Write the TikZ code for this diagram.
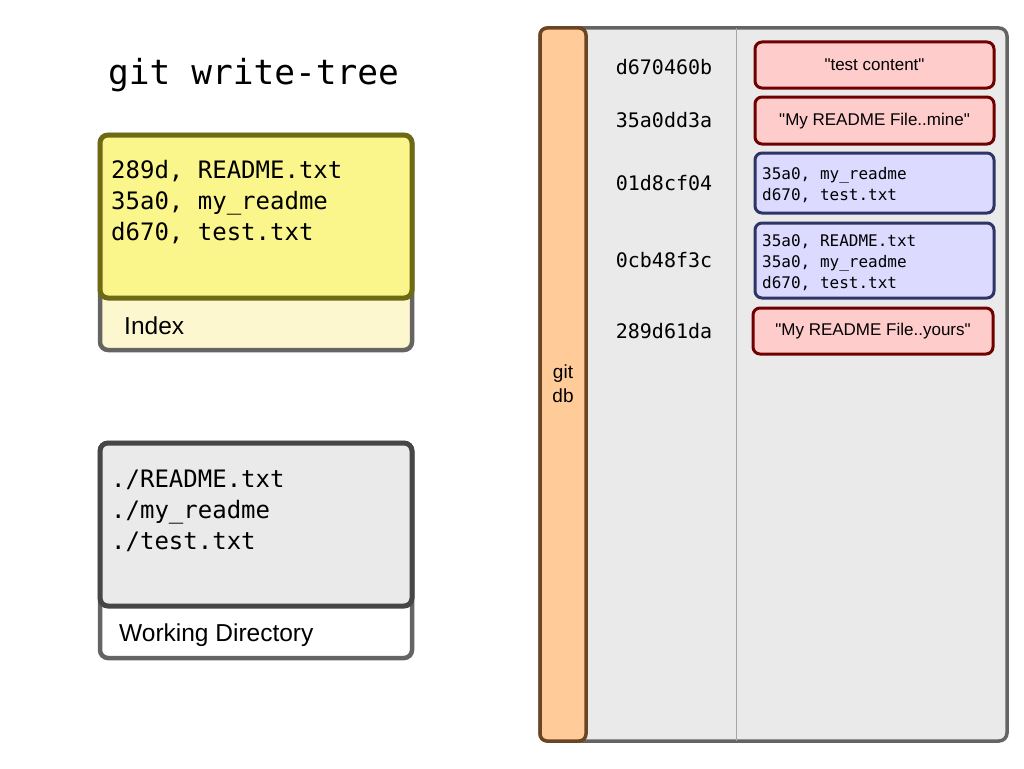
\documentclass[tikz,border=0pt]{standalone}
\usepackage{fontspec}
\setmainfont{Liberation Sans}[Ligatures=TeXOff]
\newfontfamily\monofont{DejaVu Sans Mono}
\definecolor{yelfill}{HTML}{FBF68C}
\definecolor{yelout}{HTML}{FDF7D0}
\definecolor{olive}{HTML}{6E6A14}
\definecolor{grayb}{HTML}{666463}
\definecolor{darkb}{HTML}{464646}
\definecolor{lgray}{HTML}{EAEAEA}
\definecolor{peach}{HTML}{FFCC99}
\definecolor{brownb}{HTML}{6B4521}
\definecolor{redfill}{HTML}{FFCCCC}
\definecolor{redb}{HTML}{6E0000}
\definecolor{bluefill}{HTML}{DCDAFF}
\definecolor{blueb}{HTML}{2E3466}
\tikzset{
  outerbox/.style={draw=grayb,line width=4.5pt,rounded corners=8pt},
  blobbox/.style={draw=redb,fill=redfill,line width=3pt,rounded corners=7pt},
  treebox/.style={draw=blueb,fill=bluefill,line width=3pt,rounded corners=7pt},
  monotxt/.style={font=\monofont\fontsize{24}{31}\selectfont,align=left,inner sep=0pt},
  hashtxt/.style={font=\monofont\fontsize{20}{24}\selectfont,inner sep=0pt},
  smallmono/.style={font=\monofont\fontsize{16}{21}\selectfont,align=left,inner sep=0pt},
  sanstxt/.style={font=\fontsize{17}{20}\selectfont,inner sep=0pt},
  labtxt/.style={font=\fontsize{24.5}{28}\selectfont,anchor=base west,inner sep=0pt},
}
\begin{document}
\begin{tikzpicture}[x=1pt,y=-1pt]
\useasboundingbox (0,0) rectangle (1024,768);
% title
\node[font=\monofont\fontsize{34.5}{40}\selectfont,anchor=base west,inner sep=0pt] (title) at (108,84) {git write-tree};
% index
\draw[outerbox,fill=yelout] (100,135) rectangle (412,350);
\draw[draw=olive,fill=yelfill,line width=5pt,rounded corners=8pt] (100,135) rectangle (412,298);
\node[monotxt,anchor=base west] (idx1) at (111,178) {289d, README.txt};
\node[monotxt,anchor=base west] (idx2) at (111,209) {35a0, my\_readme};
\node[monotxt,anchor=base west] (idx3) at (111,240) {d670, test.txt};
\node[labtxt] (idxlab) at (124,334) {Index};
% working directory
\draw[outerbox,fill=white] (100,443) rectangle (412,658);
\draw[draw=darkb,fill=lgray,line width=5pt,rounded corners=8pt] (100,443) rectangle (412,606);
\node[monotxt,anchor=base west] (wd1) at (111,487) {./README.txt};
\node[monotxt,anchor=base west] (wd2) at (111,518) {./my\_readme};
\node[monotxt,anchor=base west] (wd3) at (111,549) {./test.txt};
\node[labtxt] (wdlab) at (119,641) {Working Directory};
% git db
\draw[draw=grayb,fill=lgray,line width=3.5pt,rounded corners=8pt] (540,28) rectangle (1007,741);
\draw[draw=gray!70,line width=1pt] (736,28) -- (736,741);
\draw[draw=brownb,fill=peach,line width=3.5pt,rounded corners=7pt] (540,28) rectangle (586,741);
\node[font=\fontsize{19}{24}\selectfont,align=center,inner sep=0pt] (gitdb) at (563,384) {git\\db};
% hashes
\node[hashtxt] (h1) at (664,67) {d670460b};
\node[hashtxt] (h2) at (664,120) {35a0dd3a};
\node[hashtxt] (h3) at (664,183) {01d8cf04};
\node[hashtxt] (h4) at (664,260) {0cb48f3c};
\node[hashtxt] (h5) at (664,331) {289d61da};
% objects
\draw[blobbox] (755,42) rectangle (994,88);
\node[sanstxt] (o1) at (874.5,65) {"test content"};
\draw[blobbox] (755,97) rectangle (994,144);
\node[sanstxt] (o2) at (874.5,121) {"My README File..mine"};
\draw[treebox] (755,153) rectangle (994,213);
\node[smallmono,anchor=base west] (o3a) at (762,179) {35a0, my\_readme};
\node[smallmono,anchor=base west] (o3b) at (762,200) {d670, test.txt};
\draw[treebox] (755,223) rectangle (994,298);
\node[smallmono,anchor=base west] (o4a) at (762,246) {35a0, README.txt};
\node[smallmono,anchor=base west] (o4b) at (762,267) {35a0, my\_readme};
\node[smallmono,anchor=base west] (o4c) at (762,288) {d670, test.txt};
\draw[blobbox] (753,308) rectangle (993,354);
\node[sanstxt] (o5) at (873,331) {"My README File..yours"};
\end{tikzpicture}
\end{document}
